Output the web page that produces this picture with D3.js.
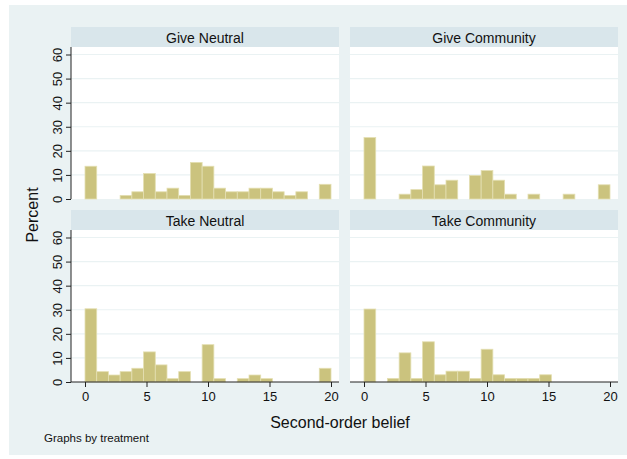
<!DOCTYPE html>
<html>
<head>
<meta charset="utf-8">
<script src="https://cdn.jsdelivr.net/npm/d3@7"></script>
<style>
  body { margin: 0; background: #fff; }
  text { font-family: "Liberation Sans", Arial, sans-serif; fill: #111; }
</style>
</head>
<body>
<div id="chart"></div>
<script>
// 21 bins of width 20/21 starting at 0 (Stata default), percent per bin
const panels = ["Give Neutral", "Give Community", "Take Neutral", "Take Community"];
const giveNeutral = [13.6, 0, 0, 1.5, 3.0, 10.6, 3.0, 4.5, 1.5, 15.2, 13.6, 4.5, 3.0, 3.0, 4.5, 4.5, 3.0, 1.5, 3.0, 0, 6.1];
const giveCommunity = [25.5, 0, 0, 2.0, 3.9, 13.7, 5.9, 7.8, 0, 9.8, 11.8, 7.8, 2.0, 0, 2.0, 0, 0, 2.0, 0, 0, 5.9];
const takeNeutral = [30.4, 4.3, 2.9, 4.3, 5.7, 12.5, 7.1, 1.4, 4.3, 0, 15.5, 1.4, 0, 1.4, 2.9, 1.4, 0, 0, 0, 0, 5.7];
const takeCommunity = [30.3, 0, 1.5, 12.1, 1.5, 16.7, 3.0, 4.5, 4.5, 1.5, 13.6, 3.0, 1.5, 1.5, 1.5, 3.0, 0, 0, 0, 0, 0];
const series = [giveNeutral, giveCommunity, takeNeutral, takeCommunity];
const yTicks = [0, 10, 20, 30, 40, 50, 60];
const xTicks = [0, 5, 10, 15, 20];
const binWidth = 20 / 21;

const width = 627, height = 459;
const svg = d3.select("#chart").append("svg")
    .attr("width", width)
    .attr("height", height);

svg.append("rect")
    .attr("x", 9).attr("y", 5)
    .attr("width", width - 9).attr("height", 450)
    .attr("fill", "#eaf2f3");

const colX = [71, 350];
const stripY = [27, 210];
const panelW = 268, stripH = 20, plotH = 152;

series.forEach((values, i) => {
    const col = i % 2, row = Math.floor(i / 2);
    const left = colX[col];
    const top = stripY[row] + stripH;
    const bottom = top + plotH;

    const x = d3.scaleLinear().domain([0, 20]).range([left + 14, left + 260]);
    const y = d3.scaleLinear().domain([0, 60]).range([bottom, bottom - 144.5]);

    const g = svg.append("g");

    g.append("rect")
        .attr("x", left).attr("y", stripY[row])
        .attr("width", panelW).attr("height", stripH)
        .attr("fill", "#d9e6eb");
    g.append("text")
        .attr("x", left + panelW / 2).attr("y", stripY[row] + 15.5)
        .attr("text-anchor", "middle")
        .style("font-size", "14px")
        .text(panels[i]);

    g.append("rect")
        .attr("x", left).attr("y", top)
        .attr("width", panelW).attr("height", plotH)
        .attr("fill", "#fff");

    g.selectAll(".grid")
        .data(yTicks.slice(1))
        .join("line")
        .attr("class", "grid")
        .attr("x1", left).attr("x2", left + panelW)
        .attr("y1", d => y(d)).attr("y2", d => y(d))
        .attr("stroke", "#eaf2f3")
        .attr("stroke-width", 1.2);

    g.selectAll(".bar")
        .data(values.map((v, k) => ({ k: k, v: v })).filter(d => d.v > 0))
        .join("rect")
        .attr("class", "bar")
        .attr("x", d => x(d.k * binWidth))
        .attr("width", d => x((d.k + 1) * binWidth) - x(d.k * binWidth))
        .attr("y", d => y(d.v))
        .attr("height", d => y(0) - y(d.v))
        .attr("fill", "#cbc37e")
        .attr("stroke", "#e4dfb2")
        .attr("stroke-width", 0.8);

    if (col === 0) {
        const yAxis = g.append("g")
            .attr("transform", `translate(${left},0)`)
            .call(d3.axisLeft(y).tickValues(yTicks).tickSize(5).tickPadding(3));
        yAxis.select(".domain").attr("d", `M0,${top}V${bottom}`).attr("stroke", "#222");
        yAxis.selectAll(".tick line").attr("stroke", "#222");
        yAxis.selectAll(".tick text")
            .attr("transform", "rotate(-90)")
            .attr("x", 0).attr("y", -9)
            .attr("dy", 0)
            .attr("text-anchor", "middle")
            .style("font-size", "13px")
            .style("font-family", "Liberation Sans, Arial, sans-serif")
            .attr("fill", "#111");
    }

    if (row === 1) {
        const xAxis = g.append("g")
            .attr("transform", `translate(0,${bottom})`)
            .call(d3.axisBottom(x).tickValues(xTicks).tickSize(5).tickPadding(5));
        xAxis.select(".domain").attr("d", `M${left},0H${left + panelW}`).attr("stroke", "#222");
        xAxis.selectAll(".tick line").attr("stroke", "#222");
        xAxis.selectAll(".tick text")
            .style("font-size", "13px")
            .style("font-family", "Liberation Sans, Arial, sans-serif")
            .attr("fill", "#111");
    }
});

svg.append("text")
    .attr("transform", "translate(38,215) rotate(-90)")
    .attr("text-anchor", "middle")
    .style("font-size", "16px")
    .text("Percent");

svg.append("text")
    .attr("x", 340).attr("y", 428)
    .attr("text-anchor", "middle")
    .style("font-size", "16px")
    .text("Second-order belief");

svg.append("text")
    .attr("x", 44).attr("y", 442)
    .style("font-size", "11.5px")
    .text("Graphs by treatment");
</script>
</body>
</html>
